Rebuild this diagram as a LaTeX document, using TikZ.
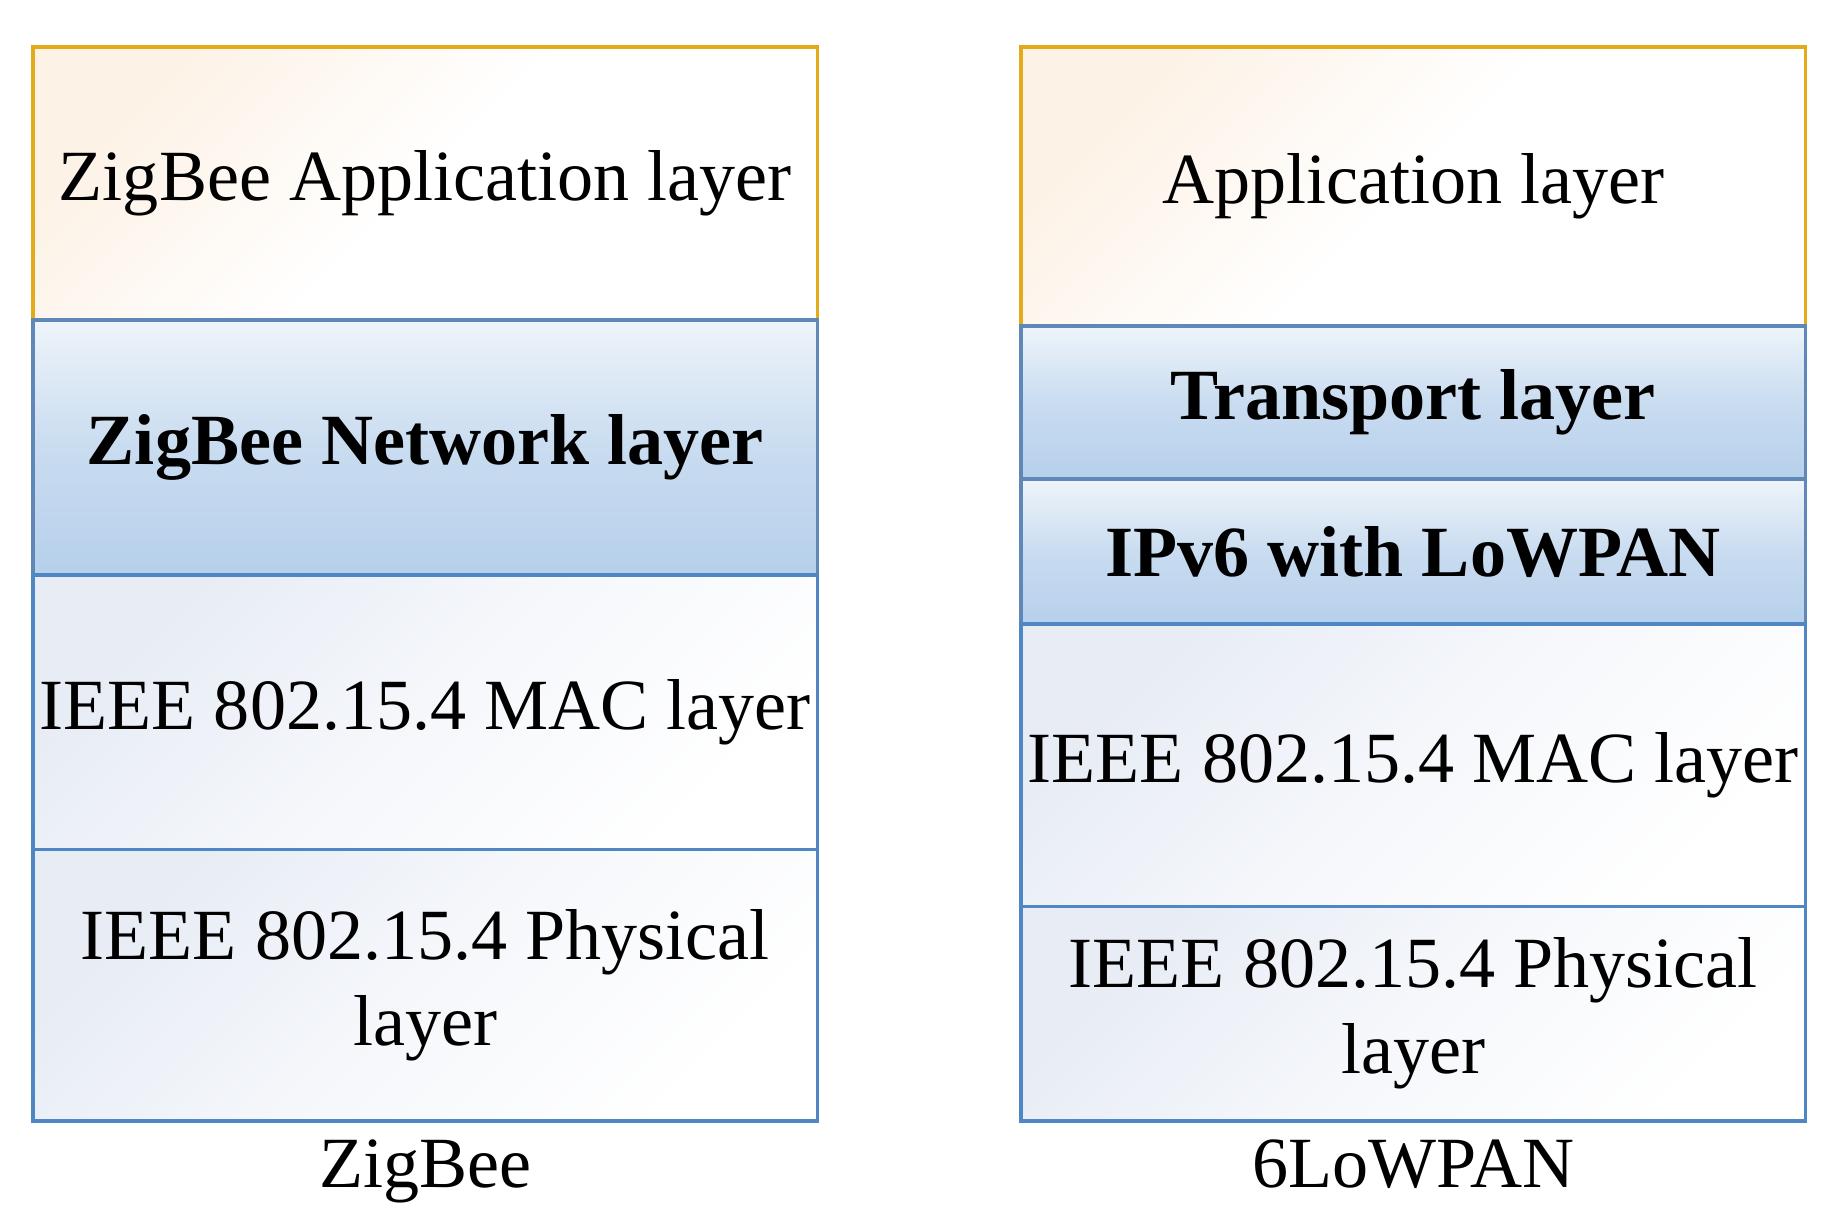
\documentclass[tikz,border=0pt]{standalone}
\usepackage{fontspec}
\setmainfont{Liberation Serif}
\usetikzlibrary{positioning}
\definecolor{appline}{HTML}{E3AA1B}
\definecolor{apptop}{HTML}{FDF2E6}
\definecolor{netline}{HTML}{5F88B8}
\definecolor{nettop}{HTML}{EEF4FA}
\definecolor{netmid}{HTML}{C9DCF0}
\definecolor{netbot}{HTML}{B6D0EB}
\definecolor{lowline}{HTML}{4F86C4}
\definecolor{lowtop}{HTML}{E7ECF5}
\begin{document}
\begin{tikzpicture}[x=0.01cm,y=-0.01cm,
	layer/.style={draw,line width=1.1pt,outer sep=0pt,inner sep=0pt,minimum width=7.84cm,align=center,
		font=\fontsize{20.5}{24.5}\selectfont},
	applayer/.style={layer,draw=appline,top color=apptop,bottom color=white,middle color=white,shading angle=45},
	netlayer/.style={layer,draw=netline,top color=nettop,bottom color=netbot,middle color=netmid,font=\fontsize{20.5}{24.5}\selectfont\bfseries},
	lowlayer/.style={layer,draw=lowline,top color=lowtop,bottom color=white,middle color=white!60!lowtop,shading angle=45},
	caption/.style={inner sep=2pt,font=\fontsize{20.5}{24.5}\selectfont}]
	\useasboundingbox (0,0) rectangle (1840,1230);
	% ZigBee stack
	\node[applayer,minimum height=2.73cm,anchor=north west] (zapp) at (33,47) {ZigBee Application layer};
	\node[netlayer,minimum height=2.55cm,below=0pt of zapp] (znet) {ZigBee Network layer};
	\node[lowlayer,minimum height=2.74cm,below=0pt of znet] (zmac) {IEEE 802.15.4 MAC layer};
	\node[lowlayer,minimum height=2.71cm,below=0pt of zmac] (zphy) {IEEE 802.15.4 Physical\\layer};
	\node[caption,below=0.11cm of zphy] (zname) {ZigBee};
	% 6LoWPAN stack
	\node[applayer,minimum height=2.79cm,anchor=north west] (lapp) at (1021,47) {Application layer};
	\node[netlayer,minimum height=1.53cm,below=0pt of lapp] (ltra) {Transport layer};
	\node[netlayer,minimum height=1.45cm,below=0pt of ltra] (lipv) {IPv6 with LoWPAN};
	\node[lowlayer,minimum height=2.82cm,below=0pt of lipv] (lmac) {IEEE 802.15.4 MAC layer};
	\node[lowlayer,minimum height=2.14cm,below=0pt of lmac] (lphy) {IEEE 802.15.4 Physical\\layer};
	\node[caption,below=0.11cm of lphy] (lname) {6LoWPAN};
\end{tikzpicture}
\end{document}
